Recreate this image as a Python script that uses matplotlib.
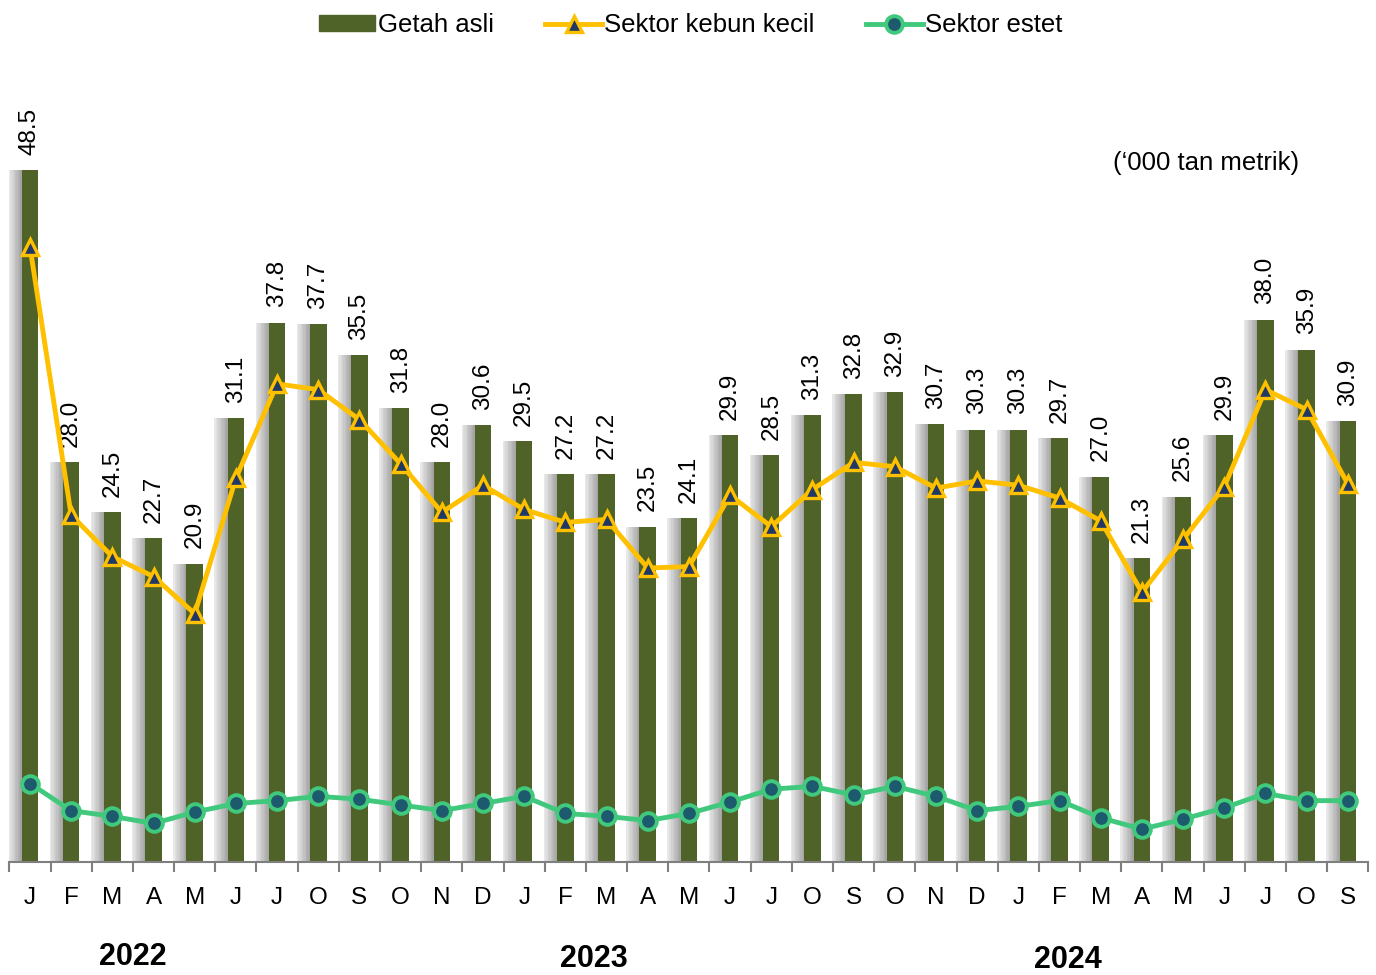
import matplotlib
matplotlib.use('Agg')
import matplotlib.pyplot as plt
from matplotlib.lines import Line2D
from matplotlib.patches import Patch
import numpy as np

plt.rcParams['font.family'] = ['Liberation Sans', 'DejaVu Sans']

months = ['J', 'F', 'M', 'A', 'M', 'J', 'J', 'O', 'S', 'O', 'N', 'D',
          'J', 'F', 'M', 'A', 'M', 'J', 'J', 'O', 'S', 'O', 'N', 'D',
          'J', 'F', 'M', 'A', 'M', 'J', 'J', 'O', 'S']
years = ['2022', '2023', '2024']

getah_asli = [48.5, 28.0, 24.5, 22.7, 20.9, 31.1, 37.8, 37.7, 35.5, 31.8, 28.0, 30.6,
              29.5, 27.2, 27.2, 23.5, 24.1, 29.9, 28.5, 31.3, 32.8, 32.9, 30.7, 30.3,
              30.3, 29.7, 27.0, 21.3, 25.6, 29.9, 38.0, 35.9, 30.9]
kebun_kecil = [43.1, 24.3, 21.4, 20.0, 17.4, 26.9, 33.5, 33.1, 31.0, 27.9, 24.5, 26.4,
               24.7, 23.8, 24.0, 20.6, 20.7, 25.7, 23.5, 26.1, 28.0, 27.7, 26.2, 26.7,
               26.4, 25.5, 23.9, 18.9, 22.6, 26.3, 33.1, 31.7, 26.5]
estet = [5.5, 3.6, 3.2, 2.7, 3.5, 4.1, 4.3, 4.6, 4.4, 4.0, 3.6, 4.1,
         4.6, 3.4, 3.2, 2.9, 3.4, 4.2, 5.1, 5.3, 4.7, 5.3, 4.6, 3.6,
         3.9, 4.3, 3.1, 2.3, 3.0, 3.8, 4.8, 4.3, 4.3]

bar_color = '#4F6228'
yellow = '#FFC000'
navy = '#1F3864'
green = '#40C97C'
teal = '#1E5A6E'

fig = plt.figure(figsize=(13.76, 9.75), dpi=100)
ax = fig.add_axes([9.4 / 1376, 113 / 975, 1359 / 1376, 862 / 975])

x = np.arange(len(getah_asli))
w = 0.4

# bayang kelabu di sebelah kiri bar
steps = 10
sw = 0.32 / steps
for i in range(steps):
    a = 0.15 + 0.75 * (i + 1) / steps
    ax.bar(x - w / 2 - 0.32 + (i + 0.5) * sw, getah_asli, width=sw,
           color='#9A9A9A', alpha=a, linewidth=0, zorder=1)

ax.bar(x, getah_asli, width=w, color=bar_color, zorder=2)

ax.plot(x, kebun_kecil, color=yellow, lw=3.5, marker='^', markersize=11,
        markerfacecolor=navy, markeredgecolor=yellow, markeredgewidth=2.4, zorder=4)
ax.plot(x, estet, color=green, lw=3.5, marker='o', markersize=12,
        markerfacecolor=teal, markeredgecolor=green, markeredgewidth=2.8, zorder=4)

for xi, v in zip(x, getah_asli):
    ax.annotate(f'{v:.1f}', (xi, v), xytext=(0, 11), textcoords='offset points',
                rotation=90, ha='center', va='bottom', fontsize=17.5)

ax.set_xlim(-0.5, len(x) - 0.5)
ax.set_ylim(0, 60.4)
ax.set_yticks([])
for s in ['top', 'right', 'left']:
    ax.spines[s].set_visible(False)
ax.spines['bottom'].set_color('#7F7F7F')
ax.spines['bottom'].set_linewidth(1.5)

ax.set_xticks(x)
ax.set_xticklabels(months, fontsize=17.5)
ax.tick_params(axis='x', length=0, pad=18)
ax.set_xticks(np.arange(-0.5, len(x)), minor=True)
ax.tick_params(axis='x', which='minor', length=7, width=1.5, color='#7F7F7F')

year_pos = [2.5, 13.7, 25.2]
year_y = [-0.110, -0.112, -0.114]
for xp, yp, yr in zip(year_pos, year_y, years):
    ax.text(xp, yp, yr, transform=ax.get_xaxis_transform(), ha='center',
            va='center', fontsize=22, fontweight='bold')

ax.text(28.55, 0.811, "(\u2018000 tan metrik)",
        transform=ax.get_xaxis_transform(), ha='center', va='center', fontsize=18.5)

handles = [Patch(facecolor=bar_color, edgecolor=bar_color),
           Line2D([], [], color=yellow, lw=3.5, marker='^', markersize=11,
                  markerfacecolor=navy, markeredgecolor=yellow, markeredgewidth=2.4),
           Line2D([], [], color=green, lw=3.5, marker='o', markersize=12,
                  markerfacecolor=teal, markeredgecolor=green, markeredgewidth=2.8)]
labels = ['Getah asli', 'Sektor kebun kecil', 'Sektor estet']
fig.legend(handles, labels, loc='center', bbox_to_anchor=(0.502, 0.974), ncol=3,
           frameon=False, fontsize=18.5, handlelength=2.2, handletextpad=0.1,
           columnspacing=2.0, handleheight=0.6)

fig.savefig('out.png', dpi=100)
